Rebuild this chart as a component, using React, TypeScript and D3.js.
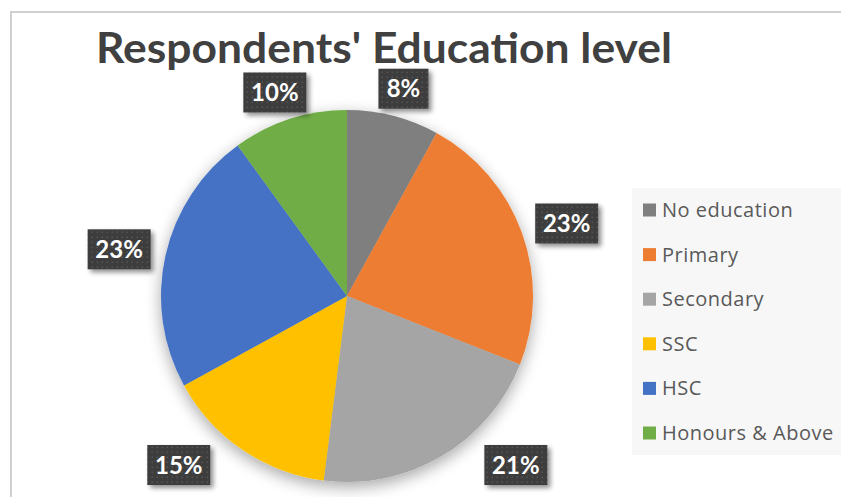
import React from "react";
import * as d3 from "d3";

const categories = ["No education", "Primary", "Secondary", "SSC", "HSC", "Honours & Above"];
const values = [8, 23, 21, 15, 23, 10];
const colors = ["#7f7f7f", "#ed7d31", "#a5a5a5", "#ffc000", "#4472c4", "#70ad47"];
const title = "Respondents' Education level";

const W = 841;
const H = 497;
const cx = 347;
const cy = 296;
const R = 186;
const pad = 16;
const boxH = 40;
const maxLabelY = 465;

function labelBox(a: number, text: string) {
  const w = 24 + 13 * text.length;
  const ux = Math.sin(a);
  const uy = -Math.cos(a);
  let x = cx + ux * (R + pad) + (ux * w) / 2;
  let y = cy + uy * (R + pad) + (uy * boxH * 0.6) / 2;
  if (y > maxLabelY) {
    y = maxLabelY;
    const dir = ux >= 0 ? 1 : -1;
    const dist = () => {
      const nx = Math.max(x - w / 2, Math.min(cx, x + w / 2));
      const ny = Math.max(y - boxH / 2, Math.min(cy, y + boxH / 2));
      return Math.hypot(nx - cx, ny - cy);
    };
    let guard = 0;
    while (dist() < R + pad && guard < 400) {
      x += dir;
      guard++;
    }
  }
  return { x, y, w };
}

export default function App() {
  const pie = d3.pie<number>().sort(null).value((d) => d).startAngle(0).endAngle(2 * Math.PI);
  const arcs = pie(values);
  const arcGen = d3.arc<d3.PieArcDatum<number>>().innerRadius(0).outerRadius(R);
  const total = d3.sum(values);
  const legendY = d3.scalePoint<string>().domain(categories).range([210, 433]);

  return (
    <svg width={W} height={H} style={{ position: "absolute", left: 0, top: 0, background: "#fff" }}>
      <defs>
        <pattern id="dots" width="5" height="5" patternUnits="userSpaceOnUse">
          <rect width="5" height="5" fill="#3d3d3d" />
          <rect x="1.5" y="1.5" width="1.5" height="1.5" fill="#555" />
        </pattern>
        <filter id="pieShadow" x="-30%" y="-30%" width="160%" height="160%">
          <feGaussianBlur in="SourceAlpha" stdDeviation="8" />
          <feOffset dx="0" dy="5" result="b" />
          <feComponentTransfer>
            <feFuncA type="linear" slope="0.35" />
          </feComponentTransfer>
          <feMerge>
            <feMergeNode />
            <feMergeNode in="SourceGraphic" />
          </feMerge>
        </filter>
        <filter id="boxShadow" x="-30%" y="-30%" width="160%" height="160%">
          <feGaussianBlur in="SourceAlpha" stdDeviation="2.5" />
          <feOffset dx="3" dy="3" result="b" />
          <feComponentTransfer>
            <feFuncA type="linear" slope="0.45" />
          </feComponentTransfer>
          <feMerge>
            <feMergeNode />
            <feMergeNode in="SourceGraphic" />
          </feMerge>
        </filter>
      </defs>

      <line x1={10} y1={12} x2={W} y2={12} stroke="#d0d0d0" strokeWidth={2} />
      <line x1={11} y1={11} x2={11} y2={H} stroke="#d0d0d0" strokeWidth={2} />

      <text
        x={96}
        y={63}
        fontFamily="Lato, 'Open Sans', sans-serif"
        fontWeight={700}
        fontSize={42}
        fill="#404040"
        textLength={576}
        lengthAdjust="spacingAndGlyphs"
      >
        {title}
      </text>

      <g transform={`translate(${cx},${cy})`} filter="url(#pieShadow)">
        {arcs.map((a, i) => (
          <path key={i} d={arcGen(a) || ""} fill={colors[i]} />
        ))}
      </g>

      {arcs.map((a, i) => {
        const mid = (a.startAngle + a.endAngle) / 2;
        const text = `${Math.round((values[i] / total) * 100)}%`;
        const b = labelBox(mid, text);
        return (
          <g key={i}>
            <rect
              x={b.x - b.w / 2}
              y={b.y - boxH / 2}
              width={b.w}
              height={boxH}
              fill="url(#dots)"
              filter="url(#boxShadow)"
            />
            <text
              x={b.x}
              y={b.y + 8.5}
              textAnchor="middle"
              fontFamily="Lato, 'Open Sans', sans-serif"
              fontWeight={700}
              fontSize={24}
              fill="#fff"
            >
              {text}
            </text>
          </g>
        );
      })}

      <rect x={632} y={188} width={W - 632} height={267} fill="#f7f7f7" />
      {categories.map((c, i) => {
        const y = legendY(c) as number;
        return (
          <g key={c}>
            <rect x={643} y={y - 6.5} width={13} height={13} fill={colors[i]} />
            <text
              x={662}
              y={y + 7}
              fontFamily="'Open Sans', sans-serif"
              fontSize={20}
              letterSpacing={0.5}
              fill="#595959"
            >
              {c}
            </text>
          </g>
        );
      })}
    </svg>
  );
}
